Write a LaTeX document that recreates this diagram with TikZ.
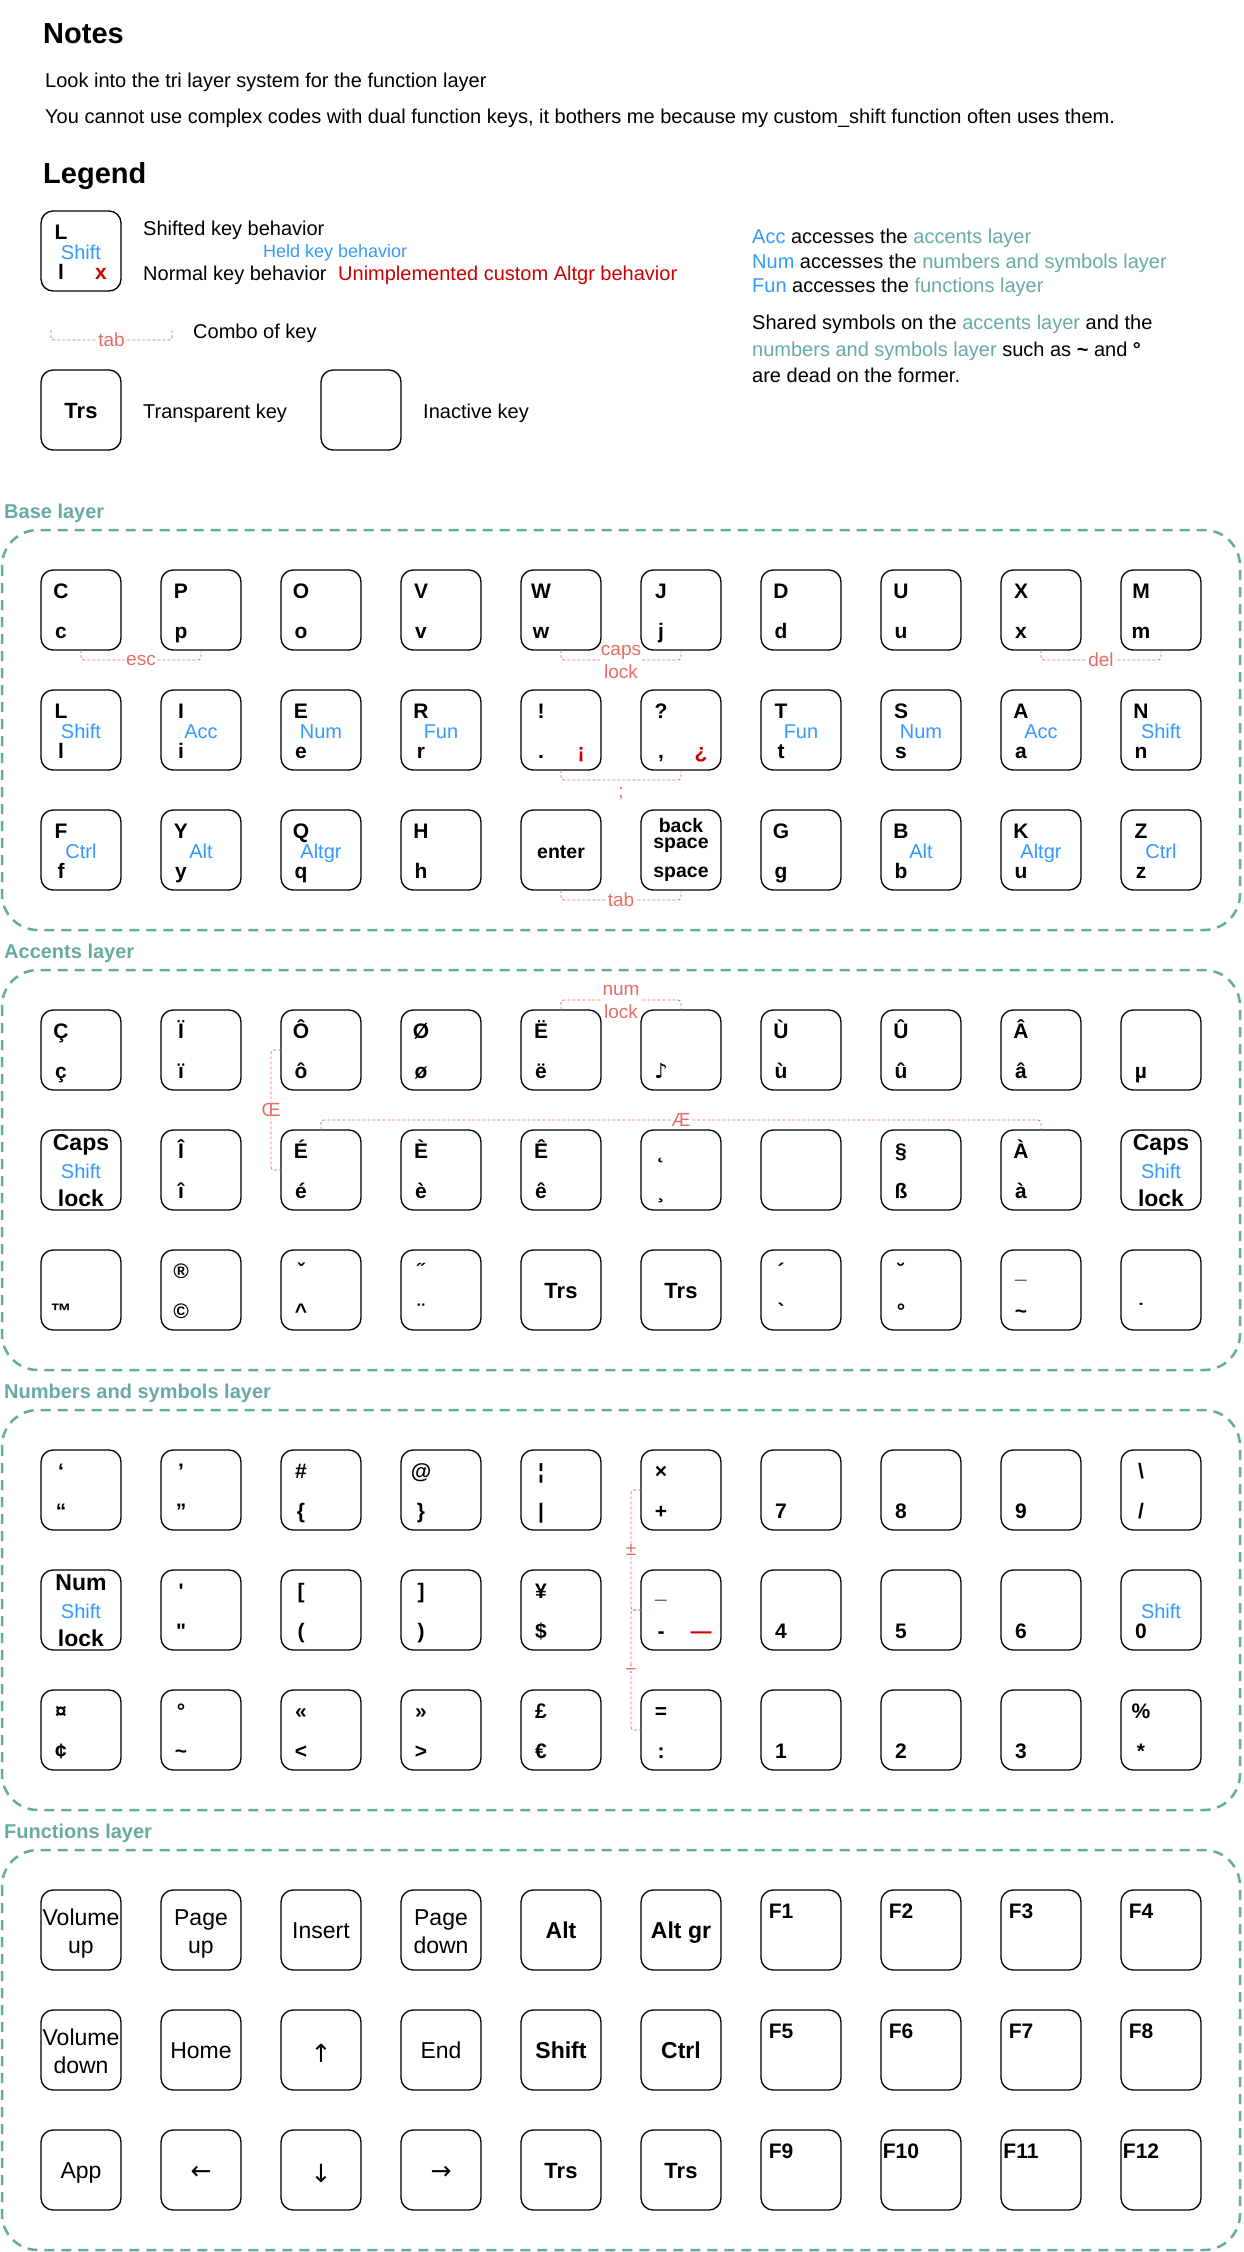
\documentclass[tikz,border=0pt]{standalone}
\usepackage{fontspec}
\setmainfont{Liberation Sans}
\newfontfamily\djv{DejaVu Sans}
\newfontfamily\rawf{Liberation Sans}[Ligatures=TeXOff]
\usetikzlibrary{calc}
\definecolor{layerc}{HTML}{67AB9F}
\definecolor{heldc}{HTML}{3399FF}
\definecolor{altc}{HTML}{CC0000}
\definecolor{comboc}{HTML}{EA6B66}
\tikzset{
 keybox/.style={draw, line width=1.3pt, rounded corners=12pt, minimum width=80pt, minimum height=80pt, inner sep=0pt, outer sep=0pt},
 ktop/.style={anchor=base, inner sep=0pt, font=\fontsize{21}{25}\selectfont\bfseries},
 kheld/.style={anchor=base, inner sep=0pt, text=heldc, font=\fontsize{20}{24}\selectfont},
 kred/.style={anchor=base, inner sep=0pt, text=altc, font=\fontsize{21}{25}\selectfont\bfseries},
 kbig/.style={anchor=base, inner sep=0pt, font=\fontsize{23}{27}\selectfont\bfseries},
 kmid/.style={anchor=base, inner sep=0pt, font=\fontsize{19.5}{24}\selectfont\bfseries},
 ktrs/.style={anchor=base, inner sep=0pt, font=\fontsize{22}{26}\selectfont\bfseries},
 fntxt/.style={anchor=base, inner sep=0pt, font=\fontsize{23}{28}\selectfont},
 arrtxt/.style={anchor=center, inner sep=0pt, font=\djv\fontsize{25}{30}\selectfont},
 layerbox/.style={draw=layerc, line width=2.5pt, dash pattern=on 10pt off 7pt, rounded corners=36pt},
 layerlbl/.style={anchor=base west, inner sep=0pt, text=layerc, font=\fontsize{20}{24}\selectfont\bfseries},
 comboln/.style={draw=comboc, line width=0.9pt, dash pattern=on 3pt off 2pt, rounded corners=3pt},
 combolbl/.style={fill=white, inner sep=1pt, text=comboc, font=\fontsize{19}{23}\selectfont, align=center},
 txt/.style={anchor=base west, inner sep=0pt, font=\fontsize{20}{24}\selectfont},
 notetxt/.style={anchor=base west, inner sep=0pt, font=\fontsize{20}{24}\selectfont},
 headtxt/.style={anchor=base west, inner sep=0pt, font=\fontsize{29}{35}\selectfont\bfseries},
}
\newcommand{\kat}[7]{%
 \node[keybox] (#1) at (#2+40,#3+40) {};
 \node[ktop] (#1t) at (#2+20,#3+28) {#4};
 \node[kheld] (#1h) at (#2+40,#3+48) {#5};
 \node[ktop] (#1b) at (#2+20,#3+68) {#6};
 \node[kred] (#1r) at (#2+60,#3+68) {#7};
}
\newcommand{\kk}[7]{%
 \pgfmathsetmacro{\kx}{41+120*#2}%
 \pgfmathsetmacro{\ky}{\layerY+40+120*#3}%
 \kat{#1}{\kx}{\ky}{#4}{#5}{#6}{#7}%
}
\newcommand{\fk}[5]{\kk{#1}{#2}{#3}{}{}{}{}%
 \node[fntxt] (#1u) at ($(#1.north west)+(40,35)$) {#4};
 \node[fntxt] (#1v) at ($(#1.north west)+(40,63)$) {#5};}
\newcommand{\fo}[4]{\kk{#1}{#2}{#3}{}{}{}{}%
 \node[fntxt] (#1u) at ($(#1.north west)+(40,48)$) {#4};}
\newcommand{\fb}[4]{\kk{#1}{#2}{#3}{}{}{}{}%
 \node[kbig] (#1u) at ($(#1.north west)+(40,48)$) {#4};}
\newcommand{\fa}[4]{\kk{#1}{#2}{#3}{}{}{}{}%
 \node[arrtxt] (#1u) at ($(#1.north west)+(40,43)$) {#4};}
\newcommand{\ftrs}[3]{\kk{#1}{#2}{#3}{}{}{}{}%
 \node[ktrs] (#1u) at ($(#1.north west)+(40,48)$) {Trs};}
\newcommand{\capk}[4]{\kk{#1}{#2}{#3}{}{}{}{}%
 \node[kbig] (#1c) at ($(#1.north west)+(40,20)$) {#4};
 \node[kheld] (#1s) at ($(#1.north west)+(40,48)$) {Shift};
 \node[kbig] (#1l) at ($(#1.north west)+(40,76)$) {lock};}
\begin{document}
\begin{tikzpicture}[x=1pt,y=-1pt]
\useasboundingbox (0,0) rectangle (1243,2252);
% ---------- Notes ----------
\node[headtxt] (notes) at (43,43) {Notes};
\node[notetxt] (note1) at (45,87) {Look into the tri layer system for the function layer};
\node[notetxt] (note2) at (45,123) {You cannot use complex codes with dual function keys, it bothers me because my custom\_shift function often uses them.};
\node[headtxt] (legend) at (43,183) {Legend};
% ---------- Legend ----------
\kat{lgk}{41}{211}{L}{Shift}{l}{x}
\node[txt] (lgt1) at (143,235) {Shifted key behavior};
\node[txt, text=heldc, font=\fontsize{18}{22}\selectfont] (lgt2) at (263,257) {Held key behavior};
\node[txt] (lgt3) at (143,280) {Normal key behavior};
\node[txt, text=altc] (lgt4) at (338,280) {Unimplemented custom Altgr behavior};
\coordinate (lgA) at (51,330);
\coordinate (lgB) at (172,330);
\draw[comboln] (lgA) -- ++(0,10) -| (lgB);
\node[combolbl] (lgtab) at (111.5,340) {tab};
\node[txt] (lgt5) at (193,338) {Combo of key};
\kat{lgtrs}{41}{370}{}{}{}{}
\node[ktrs] (lgtrsu) at ($(lgtrs.north west)+(40,48)$) {Trs};
\node[txt] (lgt6) at (143,418) {Transparent key};
\kat{lgin}{321}{370}{}{}{}{}
\node[txt] (lgt7) at (423,418) {Inactive key};
% right block
\node[txt] (r1) at (752,243) {\textcolor{heldc}{Acc} accesses the \textcolor{layerc}{accents layer}};
\node[txt] (r2) at (752,268) {\textcolor{heldc}{Num} accesses the \textcolor{layerc}{numbers and symbols layer}};
\node[txt] (r3) at (752,292) {\textcolor{heldc}{Fun} accesses the \textcolor{layerc}{functions layer}};
\node[txt] (r4) at (752,329) {Shared symbols on the \textcolor{layerc}{accents layer} and the};
\node[txt] (r5) at (752,356) {\textcolor{layerc}{numbers and symbols layer} such as {\bfseries\symbol{"7E}} and {\bfseries °}};
\node[txt] (r6) at (752,382) {are dead on the former.};
% ---------- Layer boxes ----------
\draw[layerbox] (2,530) rectangle (1240,930);
\draw[layerbox] (2,970) rectangle (1240,1370);
\draw[layerbox] (2,1410) rectangle (1240,1810);
\draw[layerbox] (2,1850) rectangle (1240,2250);
\node[layerlbl] (lbase) at (4,518) {Base layer};
\node[layerlbl] (lacc) at (4,958) {Accents layer};
\node[layerlbl] (lnum) at (4,1398) {Numbers and symbols layer};
\node[layerlbl] (lfun) at (4,1838) {Functions layer};
% ---------- Base layer ----------
\def\layerY{530}
\kk{b00}{0}{0}{C}{}{c}{}
\kk{b01}{1}{0}{P}{}{p}{}
\kk{b02}{2}{0}{O}{}{o}{}
\kk{b03}{3}{0}{V}{}{v}{}
\kk{b04}{4}{0}{W}{}{w}{}
\kk{b05}{5}{0}{J}{}{j}{}
\kk{b06}{6}{0}{D}{}{d}{}
\kk{b07}{7}{0}{U}{}{u}{}
\kk{b08}{8}{0}{X}{}{x}{}
\kk{b09}{9}{0}{M}{}{m}{}
\kk{b10}{0}{1}{L}{Shift}{l}{}
\kk{b11}{1}{1}{I}{Acc}{i}{}
\kk{b12}{2}{1}{E}{Num}{e}{}
\kk{b13}{3}{1}{R}{Fun}{r}{}
\kk{b14}{4}{1}{!}{}{.}{¡}
\kk{b15}{5}{1}{?}{}{,}{¿}
\kk{b16}{6}{1}{T}{Fun}{t}{}
\kk{b17}{7}{1}{S}{Num}{s}{}
\kk{b18}{8}{1}{A}{Acc}{a}{}
\kk{b19}{9}{1}{N}{Shift}{n}{}
\kk{b20}{0}{2}{F}{Ctrl}{f}{}
\kk{b21}{1}{2}{Y}{Alt}{y}{}
\kk{b22}{2}{2}{Q}{Altgr}{q}{}
\kk{b23}{3}{2}{H}{}{h}{}
\kk{b24}{4}{2}{}{}{}{}
\node[kmid] (b24u) at ($(b24.north west)+(40,48)$) {enter};
\kk{b25}{5}{2}{}{}{}{}
\node[kmid] (b25u) at ($(b25.north west)+(40,22)$) {back};
\node[kmid] (b25v) at ($(b25.north west)+(40,38)$) {space};
\node[kmid] (b25w) at ($(b25.north west)+(40,67)$) {space};
\kk{b26}{6}{2}{G}{}{g}{}
\kk{b27}{7}{2}{B}{Alt}{b}{}
\kk{b28}{8}{2}{K}{Altgr}{u}{}
\kk{b29}{9}{2}{Z}{Ctrl}{z}{}
% ---------- Accents layer ----------
\def\layerY{970}
\kk{a00}{0}{0}{Ç}{}{ç}{}
\kk{a01}{1}{0}{Ï}{}{ï}{}
\kk{a02}{2}{0}{Ô}{}{ô}{}
\kk{a03}{3}{0}{Ø}{}{ø}{}
\kk{a04}{4}{0}{Ë}{}{ë}{}
\kk{a05}{5}{0}{}{}{{\djv\bfseries ♪}}{}
\kk{a06}{6}{0}{Ù}{}{ù}{}
\kk{a07}{7}{0}{Û}{}{û}{}
\kk{a08}{8}{0}{Â}{}{â}{}
\kk{a09}{9}{0}{}{}{µ}{}
\capk{a10}{0}{1}{Caps}
\kk{a11}{1}{1}{Î}{}{î}{}
\kk{a12}{2}{1}{É}{}{é}{}
\kk{a13}{3}{1}{È}{}{è}{}
\kk{a14}{4}{1}{Ê}{}{ê}{}
\kk{a15}{5}{1}{˛}{}{¸}{}
\kk{a16}{6}{1}{}{}{}{}
\kk{a17}{7}{1}{§}{}{ß}{}
\kk{a18}{8}{1}{À}{}{à}{}
\capk{a19}{9}{1}{Caps}
\kk{a20}{0}{2}{}{}{™}{}
\kk{a21}{1}{2}{®}{}{©}{}
\kk{a22}{2}{2}{ˇ}{}{\symbol{"5E}}{}
\kk{a23}{3}{2}{˝}{}{¨}{}
\ftrs{a24}{4}{2}
\ftrs{a25}{5}{2}
\kk{a26}{6}{2}{´}{}{{\rawf\bfseries\symbol{"60}}}{}
\kk{a27}{7}{2}{˘}{}{°}{}
\kk{a28}{8}{2}{\_}{}{\symbol{"7E}}{}
\kk{a29}{9}{2}{}{}{˙}{}
% ---------- Numbers layer ----------
\def\layerY{1410}
\kk{n00}{0}{0}{‘}{}{“}{}
\kk{n01}{1}{0}{’}{}{”}{}
\kk{n02}{2}{0}{\#}{}{\{}{}
\kk{n03}{3}{0}{@}{}{\}}{}
\kk{n04}{4}{0}{¦}{}{|}{}
\kk{n05}{5}{0}{×}{}{+}{}
\kk{n06}{6}{0}{}{}{7}{}
\kk{n07}{7}{0}{}{}{8}{}
\kk{n08}{8}{0}{}{}{9}{}
\kk{n09}{9}{0}{\textbackslash}{}{/}{}
\capk{n10}{0}{1}{Num}
\kk{n11}{1}{1}{{\rawf\bfseries\symbol{"27}}}{}{{\rawf\bfseries\symbol{"22}}}{}
\kk{n12}{2}{1}{[}{}{(}{}
\kk{n13}{3}{1}{]}{}{)}{}
\kk{n14}{4}{1}{¥}{}{\$}{}
\kk{n15}{5}{1}{\_}{}{\symbol{"2D}}{—}
\kk{n16}{6}{1}{}{}{4}{}
\kk{n17}{7}{1}{}{}{5}{}
\kk{n18}{8}{1}{}{}{6}{}
\kk{n19}{9}{1}{}{Shift}{0}{}
\kk{n20}{0}{2}{¤}{}{¢}{}
\kk{n21}{1}{2}{°}{}{\symbol{"7E}}{}
\kk{n22}{2}{2}{«}{}{<}{}
\kk{n23}{3}{2}{»}{}{>}{}
\kk{n24}{4}{2}{£}{}{€}{}
\kk{n25}{5}{2}{=}{}{:}{}
\kk{n26}{6}{2}{}{}{1}{}
\kk{n27}{7}{2}{}{}{2}{}
\kk{n28}{8}{2}{}{}{3}{}
\kk{n29}{9}{2}{\%}{}{*}{}
% ---------- Functions layer ----------
\def\layerY{1850}
\fk{f00}{0}{0}{Volume}{up}
\fk{f01}{1}{0}{Page}{up}
\fo{f02}{2}{0}{Insert}
\fk{f03}{3}{0}{Page}{down}
\fb{f04}{4}{0}{Alt}
\fb{f05}{5}{0}{Alt gr}
\kk{f06}{6}{0}{F1}{}{}{}
\kk{f07}{7}{0}{F2}{}{}{}
\kk{f08}{8}{0}{F3}{}{}{}
\kk{f09}{9}{0}{F4}{}{}{}
\fk{f10}{0}{1}{Volume}{down}
\fo{f11}{1}{1}{Home}
\fa{f12}{2}{1}{↑}
\fo{f13}{3}{1}{End}
\fb{f14}{4}{1}{Shift}
\fb{f15}{5}{1}{Ctrl}
\kk{f16}{6}{1}{F5}{}{}{}
\kk{f17}{7}{1}{F6}{}{}{}
\kk{f18}{8}{1}{F7}{}{}{}
\kk{f19}{9}{1}{F8}{}{}{}
\fo{f20}{0}{2}{App}
\fa{f21}{1}{2}{←}
\fa{f22}{2}{2}{↓}
\fa{f23}{3}{2}{→}
\ftrs{f24}{4}{2}
\ftrs{f25}{5}{2}
\kk{f26}{6}{2}{F9}{}{}{}
\kk{f27}{7}{2}{F10}{}{}{}
\kk{f28}{8}{2}{F11}{}{}{}
\kk{f29}{9}{2}{F12}{}{}{}
% ---------- Combos ----------
\draw[comboln] (b00.south) -- ++(0,10) -| (b01.south);
\node[combolbl] (cesc) at ($(b00.south)!0.5!(b01.south)+(0,10)$) {esc};
\draw[comboln] (b04.south) -- ++(0,10) -| (b05.south);
\node[combolbl] (ccaps) at ($(b04.south)!0.5!(b05.south)+(0,12)$) {caps\\lock};
\draw[comboln] (b08.south) -- ++(0,10) -| (b09.south);
\node[combolbl] (cdel) at ($(b08.south)!0.5!(b09.south)+(0,10)$) {del};
\draw[comboln] (b14.south) -- ++(0,10) -| (b15.south);
\node[combolbl] (csemi) at ($(b14.south)!0.5!(b15.south)+(0,24)$) {;};
\draw[comboln] (b24.south) -- ++(0,10) -| (b25.south);
\node[combolbl] (ctab) at ($(b24.south)!0.5!(b25.south)+(0,10)$) {tab};
\draw[comboln] (a04.north) -- ++(0,-10) -| (a05.north);
\node[combolbl] (cnum) at ($(a04.north)!0.5!(a05.north)+(0,-8)$) {num\\lock};
\draw[comboln] (a02.west) -- ++(-10,0) |- (a12.west);
\node[combolbl] (coe) at ($(a02.west)!0.5!(a12.west)+(-10,0)$) {Œ};
\draw[comboln] (a12.north) -- ++(0,-10) -| (a18.north);
\node[combolbl] (cae) at ($(a12.north)!0.5!(a18.north)+(0,-10)$) {Æ};
\draw[comboln] (n05.west) -- ++(-10,0) |- (n15.west);
\node[combolbl] (cpm) at ($(n05.west)!0.5!(n15.west)+(-10,0)$) {±};
\draw[comboln] (n15.west) -- ++(-10,0) |- (n25.west);
\node[combolbl] (cdiv) at ($(n15.west)!0.5!(n25.west)+(-10,0)$) {÷};
\end{tikzpicture}
\end{document}
